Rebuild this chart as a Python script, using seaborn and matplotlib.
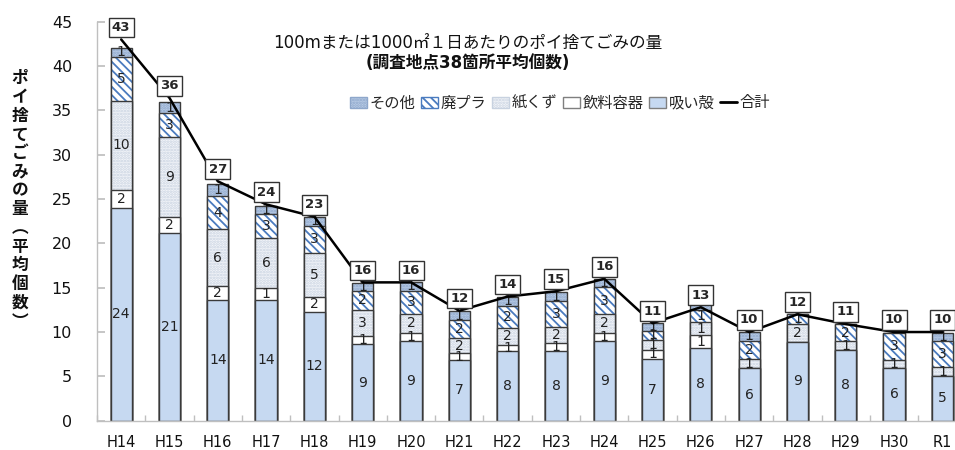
import matplotlib
matplotlib.use("Agg")
import matplotlib.pyplot as plt
import matplotlib.patches as mpatches
from matplotlib.lines import Line2D
import numpy as np
import seaborn as sns

# values (average items per site)
years = ["H14", "H15", "H16", "H17", "H18", "H19", "H20", "H21", "H22",
         "H23", "H24", "H25", "H26", "H27", "H28", "H29", "H30", "R1"]
suigara = [24.0, 21.2, 13.6, 13.6, 12.3, 8.6, 9.0, 6.9, 7.9,
           7.9, 9.0, 7.0, 8.2, 5.9, 8.9, 8.0, 6.0, 5.05]
inryo = [2.07, 1.73, 1.62, 1.32, 1.69, 0.94, 0.94, 0.68, 0.65,
         0.83, 0.94, 1.02, 1.45, 0, 0, 0, 0, 0]
kamikuzu = [9.98, 9.04, 6.36, 5.72, 4.97, 3.0, 2.07, 1.7, 1.9,
            1.88, 2.07, 1.05, 1.45, 1.02, 2.0, 0.94, 0.83, 0.98]
haipura = [5.0, 2.7, 3.77, 2.64, 3.05, 2.1, 2.67, 2.07, 2.45,
           2.9, 3.05, 1.09, 1.39, 2.1, 1.09, 2.0, 3.09, 3.0]
sonota = [1.0, 1.3, 1.3, 0.98, 1.0, 0.94, 0.94, 1.02, 1.1,
          0.98, 0.94, 0.87, 2.3, 1.02, 0, 0, 0, 0.9]
goukei = [43.0, 36.4, 27.0, 24.4, 23.0, 15.6, 15.6, 12.4, 14.0,
          14.6, 16.0, 11.0, 12.8, 10.0, 12.0, 10.9, 10.0, 10.0]

names = ["吸い殻", "飲料容器", "紙くず", "廃プラ", "その他"]
# face colour, hatch, hatch colour  (bottom -> top)
styles = [("#c6d9f1", None, "#c6d9f1"),
          ("#ffffff", None, "#ffffff"),
          ("#f4f6fa", "......", "#c8d2e0"),
          ("#ffffff", "\\\\\\\\", "#4a7bbf"),
          ("#b9cce6", "......", "#8ea7cb")]

sns.set_theme(style="white")
plt.rcParams["font.family"] = ["DejaVu Sans", "Noto Sans CJK JP"]
plt.rcParams["hatch.linewidth"] = 1.3

fig = plt.figure(figsize=(9.55, 4.5), dpi=100)
ax = fig.add_axes([0.1016, 0.0651, 0.9105, 0.8867])

stack = np.array([suigara, inryo, kamikuzu, haipura, sonota])
cum = np.cumsum(stack, axis=0)
n = len(years)

# overlay cumulative bars from the top layer down
for k in reversed(range(5)):
    face, hatch, hcol = styles[k]
    sns.barplot(x=years, y=cum[k], order=years, color=face, saturation=1,
                width=0.44, facecolor=face, hatch=hatch, edgecolor=hcol,
                linewidth=0, errorbar=None, ax=ax)
    sns.barplot(x=years, y=cum[k], order=years, color=face, saturation=1,
                width=0.44, facecolor="none", edgecolor="#3a3a3a",
                linewidth=1.0, errorbar=None, ax=ax)

# segment numbers
for k in range(5):
    for i in range(n):
        v = stack[k, i]
        if v <= 0:
            continue
        base = cum[k, i] - v
        ax.text(i, base + v / 2, f"{v:.0f}", ha="center", va="center",
                fontsize=10, color="#222222", zorder=5)

# total line with boxed labels
sns.lineplot(x=np.arange(n), y=goukei, color="black", linewidth=1.8, ax=ax,
             zorder=6)
for i, t in enumerate(goukei):
    ax.annotate(f"{t:.0f}", (i, t), xytext=(0, 4), textcoords="offset points",
                ha="center", va="bottom", fontsize=9.5, fontweight="bold",
                bbox=dict(boxstyle="square,pad=0.25", fc="white", ec="#333333", lw=1),
                zorder=7)

ax.set_xlim(-0.5, n - 0.5)
ax.set_ylim(0, 45)
ax.set_yticks(range(0, 46, 5))
ax.set_xticks(range(n))
ax.set_xticklabels(years)
ax.set_xticks(np.arange(-0.5, n, 1), minor=True)
ax.set_xlabel("")
ax.set_ylabel("")
ax.tick_params(axis="y", left=True, direction="in", length=6, color="#bfbfbf",
               pad=18, labelsize=11.5, labelcolor="#111111")
ax.tick_params(axis="x", which="major", bottom=False, pad=4, labelsize=10.5,
               labelcolor="#111111")
ax.tick_params(axis="x", which="minor", bottom=True, direction="in", length=4,
               color="#bfbfbf")
for s in ["top", "right"]:
    ax.spines[s].set_visible(False)
for s in ["left", "bottom"]:
    ax.spines[s].set_color("#bfbfbf")
    ax.spines[s].set_linewidth(1)

fig.text(0.49, 1 - 43 / 450, "100mまたは1000㎡１日あたりのポイ捨てごみの量",
         ha="center", va="center", fontsize=12, color="#111111")
fig.text(0.49, 1 - 63 / 450, "(調査地点38箇所平均個数)",
         ha="center", va="center", fontsize=12, fontweight="bold", color="#111111")

ylab = "ポイ捨てごみの量︵平均個数︶"
fig.text(20 / 955, 1 - 200 / 450, "\n".join(ylab), ha="center", va="center",
         fontsize=12, fontweight="bold", linespacing=1.05, color="#111111")

handles = []
for k in reversed(range(5)):
    face, hatch, hcol = styles[k]
    ec = hcol if hatch else "#7f7f7f"
    handles.append(mpatches.Patch(facecolor=face, hatch=hatch, edgecolor=ec,
                                  label=names[k]))
handles.append(Line2D([], [], color="black", linewidth=2, label="合計"))
fig.legend(handles=handles, ncol=6, loc="center",
           bbox_to_anchor=(560 / 955, 1 - 103 / 450), frameon=False,
           fontsize=11, handlelength=1.15, handleheight=0.7,
           handletextpad=0.15, columnspacing=0.35)

fig.savefig("out.png", dpi=100)
